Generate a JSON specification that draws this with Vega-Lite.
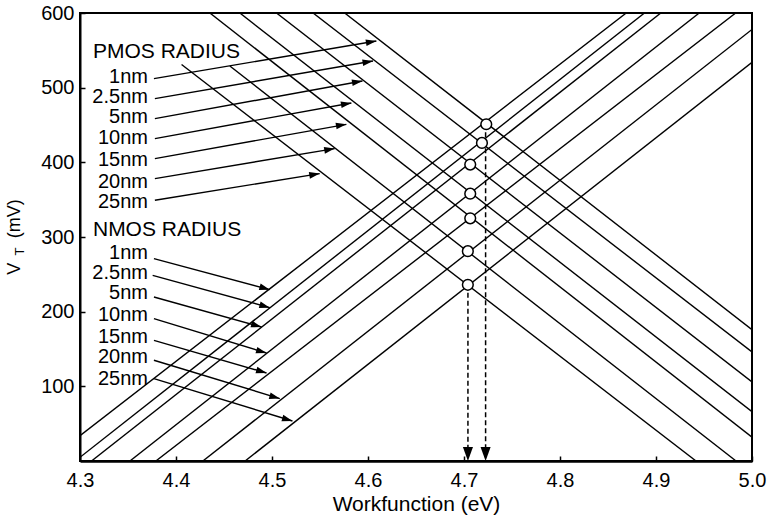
{
  "$schema": "https://vega.github.io/schema/vega-lite/v6.json",
  "width": 672,
  "height": 448,
  "autosize": {"type": "none"},
  "padding": {"left": 80, "top": 13, "right": 17, "bottom": 61},
  "background": "white",
  "config": {
    "view": {"stroke": "black", "strokeWidth": 2},
    "axis": {
      "domainColor": "black", "domainWidth": 2,
      "tickColor": "black", "tickWidth": 1.5, "tickSize": -5,
      "labelFont": "Liberation Sans", "labelFontSize": 20, "labelColor": "black", "labelFlush": false,
      "titleFont": "Liberation Sans", "titleFontSize": 21, "titleFontWeight": "normal", "titleColor": "black",
      "grid": false
    },
    "text": {"font": "Liberation Sans", "color": "black"}
  },
  "datasets": {
    "lines": [
      {"id": "N1", "W": 4.300, "V": 34}, {"id": "N1", "W": 4.869, "V": 600},
      {"id": "N2", "W": 4.300, "V": 5}, {"id": "N2", "W": 4.888, "V": 600},
      {"id": "N3", "W": 4.312, "V": 0}, {"id": "N3", "W": 4.905, "V": 600},
      {"id": "N4", "W": 4.352, "V": 0}, {"id": "N4", "W": 4.945, "V": 600},
      {"id": "N5", "W": 4.379, "V": 0}, {"id": "N5", "W": 4.983, "V": 600},
      {"id": "N6", "W": 4.428, "V": 0}, {"id": "N6", "W": 5.0, "V": 578},
      {"id": "N7", "W": 4.472, "V": 0}, {"id": "N7", "W": 5.0, "V": 534},
      {"id": "P1", "W": 4.5757, "V": 600}, {"id": "P1", "W": 5.0, "V": 176},
      {"id": "P2", "W": 4.5428, "V": 600}, {"id": "P2", "W": 5.0, "V": 146},
      {"id": "P3", "W": 4.5047, "V": 600}, {"id": "P3", "W": 5.0, "V": 106},
      {"id": "P4", "W": 4.4665, "V": 600}, {"id": "P4", "W": 5.0, "V": 66},
      {"id": "P5", "W": 4.4353, "V": 600}, {"id": "P5", "W": 5.0, "V": 32},
      {"id": "P6", "W": 4.4561, "V": 529}, {"id": "P6", "W": 4.9834, "V": 0},
      {"id": "P7", "W": 4.4058, "V": 531}, {"id": "P7", "W": 4.9417, "V": 0}
    ],
    "parrows": [
      {"W": 4.377, "V": 512.1, "W2": 4.6087, "V2": 562.5},
      {"W": 4.378, "V": 485.3, "W2": 4.6052, "V2": 535.7},
      {"W": 4.378, "V": 458.5, "W2": 4.5942, "V2": 508.9},
      {"W": 4.378, "V": 431.8, "W2": 4.5827, "V2": 479.4},
      {"W": 4.378, "V": 405.0, "W2": 4.5775, "V2": 450.9},
      {"W": 4.378, "V": 378.2, "W2": 4.5653, "V2": 418.4},
      {"W": 4.378, "V": 349.2, "W2": 4.5497, "V2": 384.9}
    ],
    "narrows": [
      {"W": 4.377, "V": 271.1, "W2": 4.4977, "V2": 229.5},
      {"W": 4.3757, "V": 248.7, "W2": 4.4977, "V2": 205.4},
      {"W": 4.377, "V": 219.6, "W2": 4.4891, "V2": 179.5},
      {"W": 4.377, "V": 190.7, "W2": 4.4943, "V2": 144.6},
      {"W": 4.377, "V": 161.6, "W2": 4.4943, "V2": 117.9},
      {"W": 4.377, "V": 134.9, "W2": 4.5081, "V2": 83.6},
      {"W": 4.377, "V": 110.4, "W2": 4.5213, "V2": 53.6}
    ],
    "drops": [
      {"W": 4.7041, "V": 236, "V2": 0},
      {"W": 4.7225, "V": 451, "V2": 0}
    ],
    "circles": [
      {"W": 4.7232, "V": 451}, {"W": 4.7187, "V": 426}, {"W": 4.7065, "V": 397},
      {"W": 4.7065, "V": 358}, {"W": 4.7065, "V": 325}, {"W": 4.704, "V": 281},
      {"W": 4.704, "V": 236}
    ],
    "heads": [
      {"text": "PMOS RADIUS", "W": 4.3135, "V": 547.3},
      {"text": "NMOS RADIUS", "W": 4.3135, "V": 308.9}
    ],
    "sizes": [
      {"text": "1nm", "W": 4.3708, "V": 513.8},
      {"text": "2.5nm", "W": 4.3708, "V": 487.0},
      {"text": "5nm", "W": 4.3708, "V": 460.2},
      {"text": "10nm", "W": 4.3708, "V": 432.1},
      {"text": "15nm", "W": 4.3708, "V": 402.6},
      {"text": "20nm", "W": 4.3708, "V": 373.2},
      {"text": "25nm", "W": 4.3708, "V": 346.4},
      {"text": "1nm", "W": 4.3708, "V": 278.2},
      {"text": "2.5nm", "W": 4.3708, "V": 251.4},
      {"text": "5nm", "W": 4.3708, "V": 224.6},
      {"text": "10nm", "W": 4.3708, "V": 195.1},
      {"text": "15nm", "W": 4.3708, "V": 165.7},
      {"text": "20nm", "W": 4.3708, "V": 138.9},
      {"text": "25nm", "W": 4.3708, "V": 109.4}
    ],
    "ytitle": [
      {"text": "V", "W": 4.2376, "V": 257.4},
      {"text": "(mV)", "W": 4.2376, "V": 324.4}
    ],
    "ysub": [
      {"text": "T", "W": 4.2420, "V": 280.5}
    ]
  },
  "encoding": {
    "x": {"field": "W", "type": "quantitative",
      "scale": {"domain": [4.3, 5.0], "nice": false, "zero": false},
      "axis": {"values": [4.3, 4.4, 4.5, 4.6, 4.7, 4.8, 4.9, 5.0], "format": ".1f", "title": "Workfunction (eV)", "labelPadding": 14, "titlePadding": 3, "domainWidth": 2.5}},
    "y": {"field": "V", "type": "quantitative",
      "scale": {"domain": [0, 600], "nice": false},
      "axis": {"values": [100, 200, 300, 400, 500, 600], "title": null, "labelPadding": 11}}
  },
  "layer": [
    {"data": {"name": "lines"}, "mark": {"type": "line", "color": "black", "strokeWidth": 1.4, "clip": true},
      "encoding": {"detail": {"field": "id"}}},
    {"data": {"name": "parrows"}, "mark": {"type": "rule", "color": "black", "strokeWidth": 1.4},
      "encoding": {"x2": {"field": "W2"}, "y2": {"field": "V2"}}},
    {"data": {"name": "narrows"}, "mark": {"type": "rule", "color": "black", "strokeWidth": 1.4},
      "encoding": {"x2": {"field": "W2"}, "y2": {"field": "V2"}}},
    {"data": {"name": "parrows"}, "mark": {"type": "point", "shape": "M -1 -0.32 L 0 0 L -1 0.32 Z", "size": 440, "filled": true, "color": "black", "opacity": 1, "angle": 350.5},
      "encoding": {"x": {"field": "W2", "type": "quantitative"}, "y": {"field": "V2", "type": "quantitative"}}},
    {"data": {"name": "narrows"}, "mark": {"type": "point", "shape": "M -1 -0.32 L 0 0 L -1 0.32 Z", "size": 440, "filled": true, "color": "black", "opacity": 1, "angle": 16},
      "encoding": {"x": {"field": "W2", "type": "quantitative"}, "y": {"field": "V2", "type": "quantitative"}}},
    {"data": {"name": "drops"}, "mark": {"type": "rule", "color": "black", "strokeWidth": 1.5, "strokeDash": [5, 3]},
      "encoding": {"y2": {"field": "V2"}}},
    {"data": {"name": "drops"}, "mark": {"type": "point", "shape": "M -0.36 -1 L 0 0 L 0.36 -1 Z", "size": 784, "filled": true, "color": "black", "opacity": 1},
      "encoding": {"y": {"field": "V2", "type": "quantitative"}}},
    {"data": {"name": "circles"}, "mark": {"type": "point", "shape": "circle", "size": 115, "filled": false, "fill": "white", "fillOpacity": 1, "stroke": "black", "strokeWidth": 1.5, "opacity": 1}},
    {"data": {"name": "heads"}, "mark": {"type": "text", "fontSize": 21, "align": "left", "baseline": "middle"},
      "encoding": {"text": {"field": "text"}}},
    {"data": {"name": "sizes"}, "mark": {"type": "text", "fontSize": 20, "align": "right", "baseline": "middle"},
      "encoding": {"text": {"field": "text"}}},
    {"data": {"name": "ytitle"}, "mark": {"type": "text", "fontSize": 18, "align": "center", "baseline": "alphabetic", "angle": 270},
      "encoding": {"text": {"field": "text"}}},
    {"data": {"name": "ysub"}, "mark": {"type": "text", "fontSize": 13, "align": "center", "baseline": "alphabetic", "angle": 270},
      "encoding": {"text": {"field": "text"}}}
  ]
}
